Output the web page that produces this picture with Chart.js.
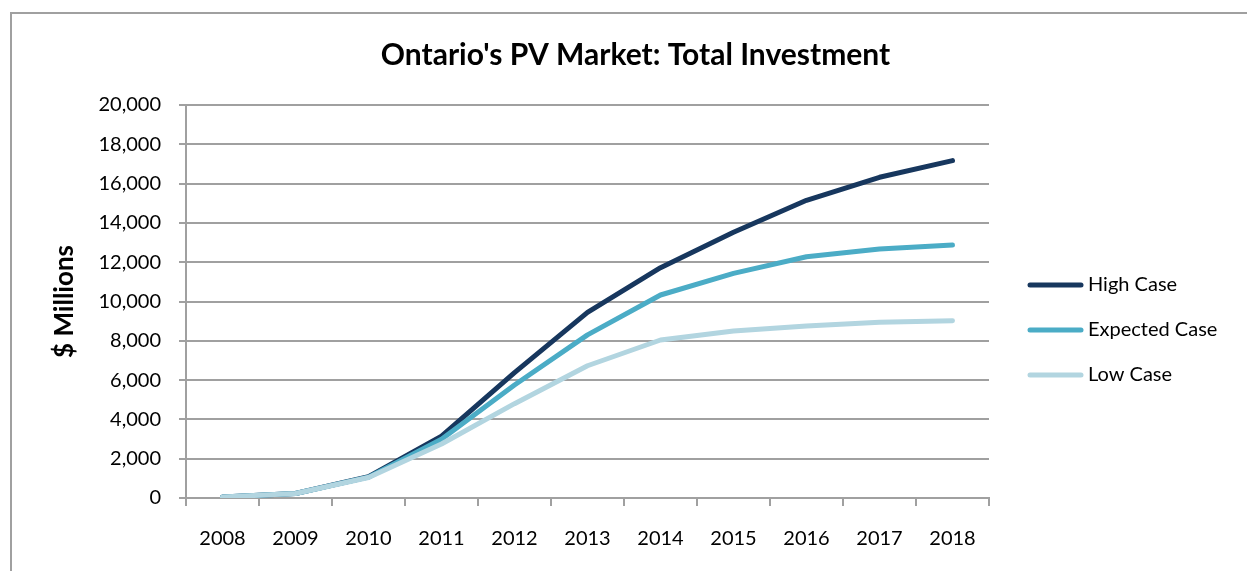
<!DOCTYPE html>
<html>
<head>
<meta charset="utf-8">
<script src="https://cdn.jsdelivr.net/npm/chart.js@4.4.1/dist/chart.umd.min.js"></script>
<style>
    html, body { margin: 0; padding: 0; background: #fff; }
    #wrap { position: relative; width: 1247px; height: 571px; overflow: hidden; }
    #frame { position: absolute; left: 10px; top: 12px; width: 1300px; height: 700px; border: 2px solid #a0a0a0; }
    #chart { position: absolute; left: 0; top: 0; }
</style>
</head>
<body>
<div id="wrap">
    <div id="frame"></div>
    <canvas id="chart" width="1247" height="571"></canvas>
</div>
<script>
// Datos ($ millones)
const years = ['2008', '2009', '2010', '2011', '2012', '2013', '2014', '2015', '2016', '2017', '2018'];
const highCase = [50, 230, 1080, 3150, 6380, 9450, 11720, 13520, 15150, 16320, 17170];
const expectedCase = [50, 230, 1060, 2990, 5750, 8300, 10330, 11430, 12280, 12670, 12870];
const lowCase = [50, 230, 1040, 2750, 4800, 6730, 8040, 8500, 8750, 8940, 9020];
const yTicks = [0, 2000, 4000, 6000, 8000, 10000, 12000, 14000, 16000, 18000, 20000];

const GRID = '#a0a0a0';
const FONT = 'Lato';

// Leyenda lateral dibujada en el hueco del eje ficticio de la derecha
const sideLegend = {
    id: 'sideLegend',
    afterDraw(chart) {
        const ctx = chart.ctx;
        const x0 = chart.chartArea.right + 41;
        let y = chart.chartArea.top + 180;
        ctx.save();
        ctx.font = '20px ' + FONT;
        ctx.textBaseline = 'middle';
        ctx.textAlign = 'left';
        chart.data.datasets.forEach(ds => {
            ctx.strokeStyle = ds.borderColor;
            ctx.lineWidth = 5;
            ctx.lineCap = 'round';
            ctx.beginPath();
            ctx.moveTo(x0, y);
            ctx.lineTo(x0 + 51, y);
            ctx.stroke();
            ctx.fillStyle = '#000';
            ctx.fillText(ds.label, x0 + 58, y);
            y += 45;
        });
        ctx.restore();
    }
};

const lineStyle = { borderWidth: 5, pointRadius: 0, tension: 0, borderCapStyle: 'round', borderJoinStyle: 'round', fill: false };

new Chart(document.getElementById('chart'), {
    type: 'line',
    data: {
        labels: years,
        datasets: [
            { label: 'High Case', data: highCase, borderColor: '#17375e', order: 2, ...lineStyle },
            { label: 'Expected Case', data: expectedCase, borderColor: '#4bacc6', order: 1, ...lineStyle },
            { label: 'Low Case', data: lowCase, borderColor: '#b2d5e0', order: 0, ...lineStyle }
        ]
    },
    options: {
        responsive: false,
        animation: false,
        devicePixelRatio: 1,
        layout: { padding: { left: 24, right: 0, top: 0, bottom: 0 } },
        plugins: {
            legend: { display: false },
            tooltip: { enabled: false },
            title: {
                display: true,
                text: "Ontario's PV Market: Total Investment",
                color: '#000',
                font: { family: FONT, size: 30, weight: 'bold', lineHeight: 1.2 },
                padding: { top: 37, bottom: 32 }
            }
        },
        scales: {
            x: {
                offset: true,
                grid: { offset: true, drawOnChartArea: false, drawTicks: true, tickLength: 8, color: GRID, lineWidth: 2 },
                border: { display: true, color: GRID, width: 2 },
                ticks: { color: '#000', font: { family: FONT, size: 20 }, padding: 21, maxRotation: 0, autoSkip: false },
                afterFit(s) { s.height = 73; }
            },
            y: {
                min: 0,
                max: 20000,
                afterBuildTicks(s) { s.ticks = yTicks.map(v => ({ value: v })); },
                grid: { color: GRID, lineWidth: 2, tickLength: 7 },
                border: { display: true, color: GRID, width: 2 },
                ticks: {
                    color: '#000',
                    font: { family: FONT, size: 20 },
                    padding: 18,
                    callback: v => v.toLocaleString('en-US')
                },
                title: {
                    display: true,
                    text: '$ Millions',
                    color: '#000',
                    font: { family: FONT, size: 26, weight: 'bold', lineHeight: 1.2 },
                    padding: { top: 25, bottom: 0 }
                },
                afterFit(s) { s.width = 162; }
            },
            side: {
                type: 'linear',
                position: 'right',
                display: true,
                grid: { display: false },
                border: { display: false },
                ticks: { display: false },
                afterFit(s) { s.width = 258; }
            }
        }
    },
    plugins: [sideLegend]
});
</script>
</body>
</html>
